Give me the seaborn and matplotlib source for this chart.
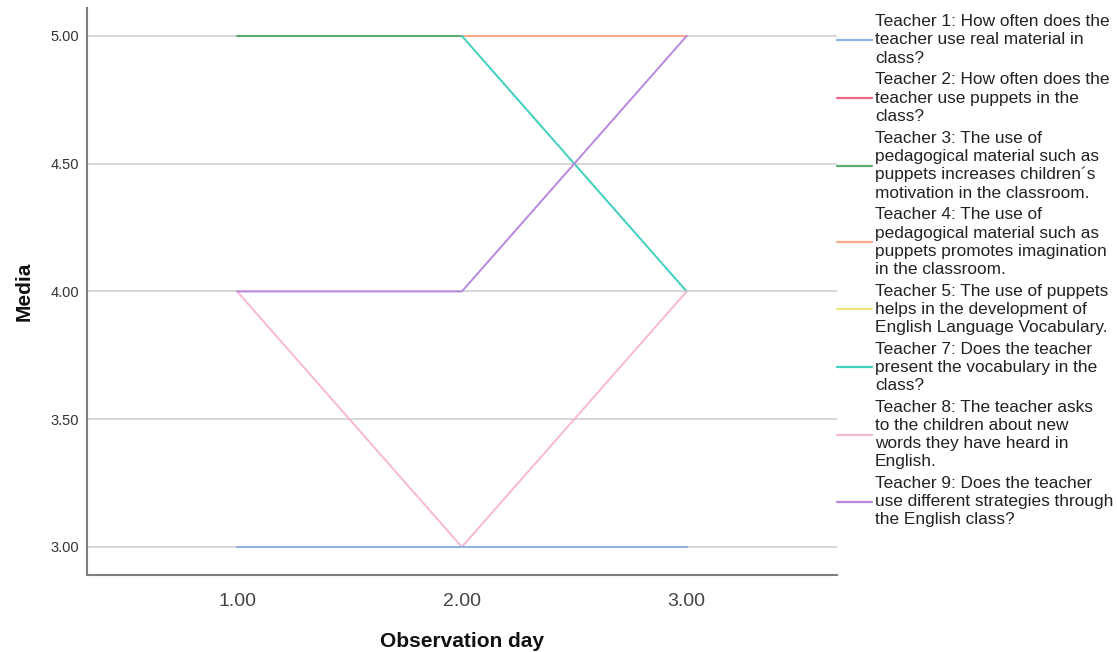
import numpy as np
import pandas as pd
import matplotlib
matplotlib.use("Agg")
import matplotlib.pyplot as plt
import seaborn as sns

days = [1.0, 2.0, 3.0]

teacher_labels = [
    "Teacher 1: How often does the\nteacher use real material in\nclass?",
    "Teacher 2: How often does the\nteacher use puppets in the\nclass?",
    "Teacher 3: The use of\npedagogical material such as\npuppets increases children\u00b4s\nmotivation in the classroom.",
    "Teacher 4: The use of\npedagogical material such as\npuppets promotes imagination\nin the classroom.",
    "Teacher 5: The use of puppets\nhelps in the development of\nEnglish Language Vocabulary.",
    "Teacher 7: Does the teacher\npresent the vocabulary in the\nclass?",
    "Teacher 8: The teacher asks\nto the children about new\nwords they have heard in\nEnglish.",
    "Teacher 9: Does the teacher\nuse different strategies through\nthe English class?",
]

# mean score per observation day (nan = no value that day)
t1 = [3.0, 3.0, 3.0]
t2 = [3.0, 3.0, 3.0]
t3 = [5.0, 5.0, np.nan]
t4 = [np.nan, 5.0, 5.0]
t5 = [5.0, 5.0, 5.0]
t7 = [np.nan, 5.0, 4.0]
t8 = [4.0, 3.0, 4.0]
t9 = [4.0, 4.0, 5.0]
series = [t1, t2, t3, t4, t5, t7, t8, t9]

colors = ["#8fb4ea", "#e8688a", "#5aab6c", "#f8a98a",
          "#ece679", "#3fcfbd", "#f7b9cf", "#b987e0"]
# hidden series sit under the visible ones
zorders = [3.5, 2.5, 3.2, 3.0, 2.4, 3.3, 3.4, 3.6]

rows = []
for lab, vals in zip(teacher_labels, series):
    for d, v in zip(days, vals):
        rows.append({"day": d, "media": v, "teacher": lab})
df = pd.DataFrame(rows)

sns.set_style("white")
plt.rcParams["font.family"] = ["Liberation Sans", "DejaVu Sans"]

fig = plt.figure(figsize=(11.17, 6.52), dpi=100)
ax = fig.add_axes([0.078, 0.118, 0.671, 0.87])

for lab, col, z in zip(teacher_labels, colors, zorders):
    sub = df[df["teacher"] == lab]
    sns.lineplot(data=sub, x="day", y="media", color=col, linewidth=1.4,
                 ax=ax, zorder=z, estimator=None, sort=False)

ax.set_xlim(0.333, 3.667)
ax.set_ylim(2.89, 5.11)
ax.set_xticks(days)
ax.set_xticklabels(["1.00", "2.00", "3.00"], fontsize=14, color="#444444")
ax.set_yticks([3.0, 3.5, 4.0, 4.5, 5.0])
ax.set_yticklabels(["3.00", "3.50", "4.00", "4.50", "5.00"], fontsize=10.5, color="#333333")
ax.tick_params(axis="x", length=0, pad=13)
ax.tick_params(axis="y", length=0, pad=6)
ax.yaxis.grid(True, color="#d4d4d4", linewidth=1.3, zorder=1)
ax.set_axisbelow(True)
for s in ["top", "right"]:
    ax.spines[s].set_visible(False)
for s in ["left", "bottom"]:
    ax.spines[s].set_color("#7f7f7f")
    ax.spines[s].set_linewidth(1.5)

ax.set_xlabel("Observation day", fontsize=15, fontweight="bold", labelpad=16,
              color="#111111")
ax.set_ylabel("Media", fontsize=15, fontweight="bold", labelpad=12,
              color="#111111")

handles = [plt.Line2D([], [], color=c, linewidth=1.6) for c in colors]
leg = fig.legend(handles, teacher_labels, loc="upper left",
                 bbox_to_anchor=(0.749, 0.978), frameon=False,
                 fontsize=12.4, handlelength=2.05, handletextpad=0.17,
                 labelspacing=0.4, borderaxespad=0.0, borderpad=0.0)
for t in leg.get_texts():
    t.set_linespacing(1.26)
    t.set_color("#222222")

fig.savefig("out.png", dpi=100)
